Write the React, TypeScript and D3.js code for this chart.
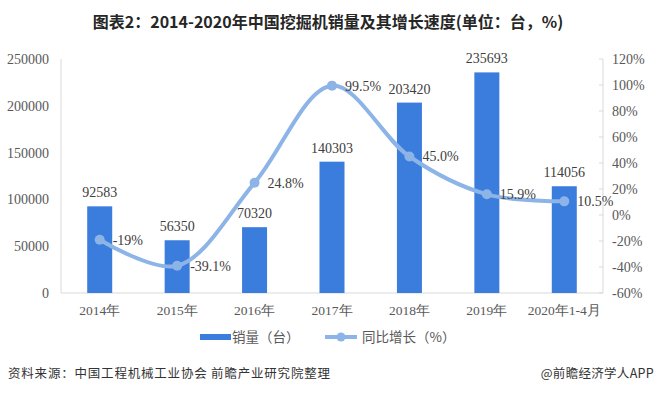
import React from 'react';
import * as d3 from 'd3';

// chart data
const categories = ['2014年', '2015年', '2016年', '2017年', '2018年', '2019年', '2020年1-4月'];
const sales = [92583, 56350, 70320, 140303, 203420, 235693, 114056];
const growth = [-19, -39.1, 24.8, 99.5, 45.0, 15.9, 10.5];
const growthLabels = ['-19%', '-39.1%', '24.8%', '99.5%', '45.0%', '15.9%', '10.5%'];
const leftTicks = [0, 50000, 100000, 150000, 200000, 250000];
const rightTicks = [-60, -40, -20, 0, 20, 40, 60, 80, 100, 120];

const W = 656;
const H = 394;
const margin = { top: 59, right: 53, bottom: 101, left: 61 };
const innerW = W - margin.left - margin.right;
const innerH = H - margin.top - margin.bottom;

const barColor = '#3b7ddd';
const lineColor = '#8db4e6';
const textColor = '#595959';
const axisColor = '#d9d9d9';
const serif = '"Liberation Serif", "Times New Roman", serif';
const cjk = '"Noto Sans CJK SC", "Noto Sans", sans-serif';

export default function App() {
  const band = d3.scaleBand<string>().domain(categories).range([0, innerW]);
  const cx = (c: string) => (band(c) || 0) + band.bandwidth() / 2;
  const yL = d3.scaleLinear().domain([0, 250000]).range([innerH, 0]);
  const yR = d3.scaleLinear().domain([-60, 120]).range([innerH, 0]);

  const line = d3
    .line<number>()
    .x((_, i) => cx(categories[i]))
    .y((d) => yR(d))
    .curve(d3.curveCatmullRom.alpha(0.5));

  const bw = 25;

  return (
    <svg width={W} height={H} style={{ position: 'absolute', left: 0, top: 0, background: '#fff' }}>
      <text x={W / 2} y={28} textAnchor="middle" fontFamily={cjk} fontWeight="bold" fontSize={16} fill="#262626">
        图表2：2014-2020年中国挖掘机销量及其增长速度(单位：台，%)
      </text>

      <g transform={`translate(${margin.left},${margin.top})`}>
        {/* axes lines */}
        <line x1={0} x2={0} y1={0} y2={innerH} stroke={axisColor} />
        <line x1={0} x2={innerW} y1={innerH} y2={innerH} stroke={axisColor} />
        <line x1={innerW} x2={innerW} y1={0} y2={innerH} stroke={axisColor} />

        {leftTicks.map((t) => (
          <text key={t} x={-12} y={yL(t)} dy="0.35em" textAnchor="end" fontFamily={serif} fontSize={14} fill={textColor}>
            {t}
          </text>
        ))}

        {rightTicks.map((t) => (
          <g key={t}>
            <line x1={innerW - 4} x2={innerW} y1={yR(t)} y2={yR(t)} stroke={axisColor} />
            <text x={innerW + 9} y={yR(t)} dy="0.35em" fontFamily={serif} fontSize={14} fill={textColor}>
              {t}%
            </text>
          </g>
        ))}

        {categories.map((c) => (
          <text key={c} x={cx(c)} y={innerH + 17} dy="0.35em" textAnchor="middle" fontFamily={serif} fontSize={13.5} fill={textColor}>
            {c}
          </text>
        ))}

        {/* bars */}
        {sales.map((v, i) => (
          <g key={categories[i]}>
            <rect x={cx(categories[i]) - bw / 2} y={yL(v)} width={bw} height={innerH - yL(v)} fill={barColor} />
            <text x={cx(categories[i])} y={yL(v) - 9} textAnchor="middle" fontFamily={serif} fontSize={14} fill="#404040">
              {v}
            </text>
          </g>
        ))}

        {/* growth line */}
        <path d={line(growth) || ''} fill="none" stroke={lineColor} strokeWidth={4} strokeLinecap="round" />
        {growth.map((v, i) => (
          <g key={categories[i]}>
            <circle cx={cx(categories[i])} cy={yR(v)} r={5} fill={lineColor} />
            <text x={cx(categories[i]) + 13} y={yR(v)} dy="0.35em" fontFamily={serif} fontSize={14} fill="#404040">
              {growthLabels[i]}
            </text>
          </g>
        ))}
      </g>

      {/* legend */}
      <rect x={200} y={334} width={31} height={6} fill={barColor} />
      <text x={232} y={337} dy="0.35em" fontFamily={cjk} fontSize={13.5} fill={textColor}>
        销量（台）
      </text>
      <line x1={325} x2={357} y1={337} y2={337} stroke={lineColor} strokeWidth={4} />
      <circle cx={341} cy={337} r={4.5} fill={lineColor} />
      <text x={362} y={337} dy="0.35em" fontFamily={cjk} fontSize={13.5} fill={textColor}>
        同比增长（%）
      </text>

      {/* footer */}
      <text x={8} y={374} dy="0.35em" fontFamily={cjk} fontSize={12.5} letterSpacing={0.8} fill="#333">
        资料来源：中国工程机械工业协会 前瞻产业研究院整理
      </text>
      <text x={654} y={374} dy="0.35em" textAnchor="end" fontFamily={cjk} fontSize={12.5} letterSpacing={0.3} fill="#333">
        @前瞻经济学人APP
      </text>
    </svg>
  );
}
